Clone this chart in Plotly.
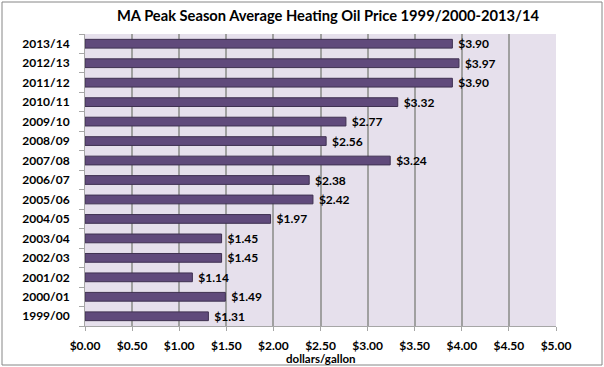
import plotly.graph_objects as go

seasons = ["1999/00", "2000/01", "2001/02", "2002/03", "2003/04", "2004/05", "2005/06",
           "2006/07", "2007/08", "2008/09", "2009/10", "2010/11", "2011/12", "2012/13", "2013/14"]
prices = [1.31, 1.49, 1.14, 1.45, 1.45, 1.97, 2.42, 2.38, 3.24, 2.56, 2.77, 3.32, 3.90, 3.97, 3.90]
tick_vals = [0, 0.5, 1, 1.5, 2, 2.5, 3, 3.5, 4, 4.5, 5]
tick_text = ["$%.2f" % v for v in tick_vals]

W, H = 604, 367
L, R, T, B = 85, 48, 34, 41
pw, ph = W - L - R, H - T - B

font = "Lato, 'Open Sans', sans-serif"

fig = go.Figure(go.Bar(
    y=seasons, x=prices, orientation="h",
    width=0.45,
    marker=dict(color="#604A7B", line=dict(color="#3F3151", width=1)),
    text=["<b> $%.2f</b>" % v for v in prices],
    textposition="outside",
    constraintext="none",
    textfont=dict(family=font, size=12, color="#000000"),
    cliponaxis=False,
))

fig.update_layout(
    width=W, height=H,
    margin=dict(l=L, r=R, t=T, b=B),
    paper_bgcolor="white",
    plot_bgcolor="#E6E0EC",
    showlegend=False,
    title=dict(text="<b>MA Peak Season Average Heating Oil Price 1999/2000-2013/14</b>",
               x=(328) / W, xanchor="center", y=1 - 16 / H, yanchor="middle",
               font=dict(family=font, size=14.7, color="#000000")),
    xaxis=dict(range=[0, 5], tickvals=tick_vals, ticktext=["<b>%s</b>" % t for t in tick_text],
               showgrid=True, gridcolor="#A0A0A0", gridwidth=1.5,
               showline=True, linecolor="#A6A6A6", linewidth=1, mirror=False,
               ticks="outside", ticklen=4, tickcolor="#A6A6A6",
               ticklabelstandoff=5,
               tickfont=dict(family=font, size=12, color="#000000"),
               zeroline=False),
    yaxis=dict(type="category", categoryorder="array", categoryarray=seasons,
               range=[-0.5, 14.5],
               ticktext=["<b>%s</b>" % s for s in seasons], tickvals=seasons,
               showline=True, linecolor="#A6A6A6", linewidth=1,
               ticks="outside", ticklen=5, tickcolor="#A6A6A6", tickson="boundaries",
               ticklabelstandoff=12,
               tickfont=dict(family=font, size=12, color="#000000"),
               showgrid=False),
)

fig.add_annotation(text="<b>dollars/gallon</b>", xref="paper", yref="paper",
                   x=0.5, y=-(359 - (T + ph)) / ph, xanchor="center", yanchor="middle",
                   showarrow=False, font=dict(family=font, size=11.5, color="#000000"))

# outer chart border
fig.add_shape(type="rect", xref="paper", yref="paper",
              x0=(2 - L) / pw, x1=(W - 2 - L) / pw,
              y0=-(H - 2 - T - ph) / ph, y1=1 + (T - 2) / ph,
              line=dict(color="#868686", width=1), layer="below")

fig.write_html("out.html", config={"displayModeBar": False},
               post_script="document.body.style.margin='0';")
